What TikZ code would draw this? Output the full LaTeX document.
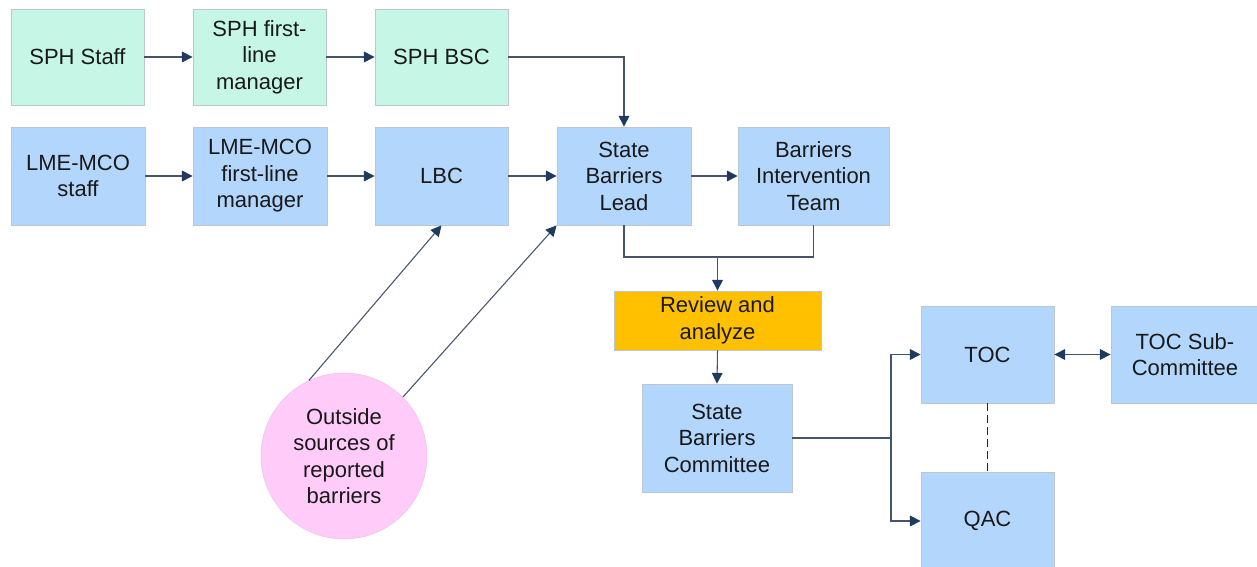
\documentclass[tikz,border=0pt]{standalone}
\usepackage{fontspec}
\setmainfont{Liberation Sans}
\usetikzlibrary{arrows.meta}

\definecolor{mint}{HTML}{C6F6E6}
\definecolor{skyblue}{HTML}{B3D6FC}
\definecolor{amber}{HTML}{FFC000}
\definecolor{pinkfill}{HTML}{FFCCFA}
\definecolor{boxline}{HTML}{BCC6D2}
\definecolor{wire}{HTML}{44546A}
\definecolor{tipnavy}{HTML}{1F3A5F}

\tikzset{
  px/.style={x=0.75pt,y=-0.75pt},
  base/.style={font=\fontsize{16.5}{19.9}\selectfont, align=center, inner sep=0pt, text=black!90},
  box/.style n args={2}{base, rectangle, draw=boxline, line width=0.6pt,
    minimum width=#1*0.75pt, minimum height=#2*0.75pt},
  greenbox/.style 2 args={box={#1}{#2}, fill=mint},
  bluebox/.style 2 args={box={#1}{#2}, fill=skyblue},
  orangebox/.style 2 args={box={#1}{#2}, fill=amber},
  source/.style={base, circle, fill=pinkfill, draw=pinkfill!85!gray, line width=0.4pt,
    minimum size=166*0.75pt},
  wireline/.style={draw=wire, line width=0.8pt},
  arrowline/.style={wireline, -{Triangle[length=8pt,width=8pt,color=tipnavy]}},
  twoway/.style={wireline, {Triangle[length=8pt,width=8pt,color=tipnavy]}-{Triangle[length=8pt,width=8pt,color=tipnavy]}},
  linkdash/.style={draw=black!85, line width=0.9pt, dash pattern=on 6pt off 3pt}
}

\begin{document}
\begin{tikzpicture}[px]
\useasboundingbox (0,0) rectangle (1257,567);
\begin{scope}
\clip (0,0) rectangle (1257,567);

% top row: SPH chain
\node[greenbox={133}{96}] (sphstaff) at (77.5,57) {SPH Staff};
\node[greenbox={133}{96}] (sphflm) at (259.5,57) {SPH first-\\line\\manager};
\node[greenbox={133}{96}] (sphbsc) at (441.5,57) {SPH BSC};

% second row: LME-MCO chain
\node[bluebox={134}{98}] (lmestaff) at (78,176) {LME-MCO\\staff};
\node[bluebox={134}{98}] (lmeflm) at (260,176) {LME-MCO\\first-line\\manager};
\node[bluebox={133}{98}] (lbc) at (441.5,176) {LBC};
\node[bluebox={134}{98}] (sbl) at (624,176) {State\\Barriers\\Lead};
\node[bluebox={151}{98}] (bit) at (813.5,176) {Barriers\\Intervention\\Team};

% review and committees
\node[orangebox={207}{59}] (review) at (717.5,320.5) {Review and\\analyze};
\node[bluebox={150}{108}] (sbc) at (717,438) {State\\Barriers\\Committee};
\node[bluebox={133}{97}] (toc) at (987.5,354.5) {TOC};
\node[bluebox={148}{97}] (tocsub) at (1185,354.5) {TOC Sub-\\Committee};
\node[bluebox={133}{98}] (qac) at (987.5,521) {QAC};

% outside sources
\node[source] (outside) at (344,456) {Outside\\sources of\\reported\\barriers};

% junction points
\coordinate (merge) at (717.5,257);
\coordinate (split) at (891,438);

% connectors
\draw[arrowline] (sphstaff.east) -- (sphflm.west);
\draw[arrowline] (sphflm.east) -- (sphbsc.west);
\draw[arrowline] (sphbsc.east) -| (sbl.north);

\draw[arrowline] (lmestaff.east) -- (lmeflm.west);
\draw[arrowline] (lmeflm.east) -- (lbc.west);
\draw[arrowline] (lbc.east) -- (sbl.west);
\draw[arrowline] (sbl.east) -- (bit.west);

\draw[wireline] (sbl.south) |- (merge) -| (bit.south);
\draw[arrowline] (merge) -- (review.north);
\draw[arrowline] (review.south) -- (sbc.north);

\draw[wireline] (sbc.east) -- (split);
\draw[arrowline] (split) |- (toc.west);
\draw[arrowline] (split) |- (qac.west);

\draw[twoway] (toc.east) -- (tocsub.west);
\draw[linkdash] (toc.south) -- (qac.north);

\draw[arrowline] (outside.115) -- (lbc.south);
\draw[arrowline] (outside.45) -- (sbl.south west);
\end{scope}
\end{tikzpicture}
\end{document}
